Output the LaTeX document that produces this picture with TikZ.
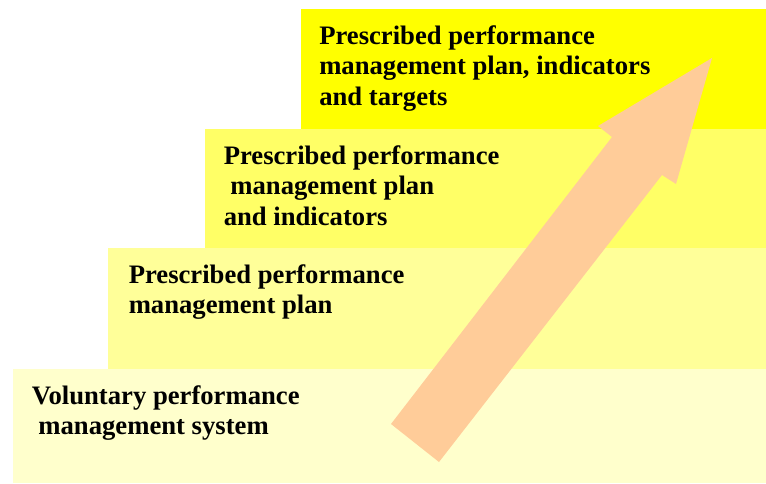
\documentclass[tikz,border=0pt]{standalone}
\usepackage{fontspec}
\setmainfont{Liberation Serif}
\usepackage{tikz}
\definecolor{stepone}{HTML}{FFFFCC}
\definecolor{steptwo}{HTML}{FFFF99}
\definecolor{stepthree}{HTML}{FFFF66}
\definecolor{stepfour}{HTML}{FFFF00}
\definecolor{risearrow}{HTML}{FFCC99}

\begin{document}
\begin{tikzpicture}[x=0.75pt, y=-0.75pt,
  steptext/.style={anchor=north west, inner sep=0pt, align=left,
    font=\fontsize{20}{23}\selectfont\bfseries}]

  \useasboundingbox (0,0) rectangle (766,483);

  % the stairs, lowest step first
  \foreach \col/\x/\top/\bot in {
    stepone/13/369/483,
    steptwo/108/248/369,
    stepthree/205/129/248,
    stepfour/301/9/129
  }
    \fill[\col] (\x,\top) rectangle (766,\bot);

  % rising arrow across the steps
  \fill[risearrow] (391,424) -- (612,137) -- (598,126) -- (712,58)
    -- (676,184) -- (662,175) -- (439,462) -- cycle;

  \node[steptext] (voluntary) at (31.5,385)
    {Voluntary performance\\~management system};
  \node[steptext] (plan) at (128.5,264)
    {Prescribed performance\\management plan};
  \node[steptext] (indicators) at (223.5,145)
    {Prescribed performance\\~management plan\\and indicators};
  \node[steptext] (targets) at (319,25)
    {Prescribed performance\\management plan, indicators\\and targets};

\end{tikzpicture}
\end{document}
